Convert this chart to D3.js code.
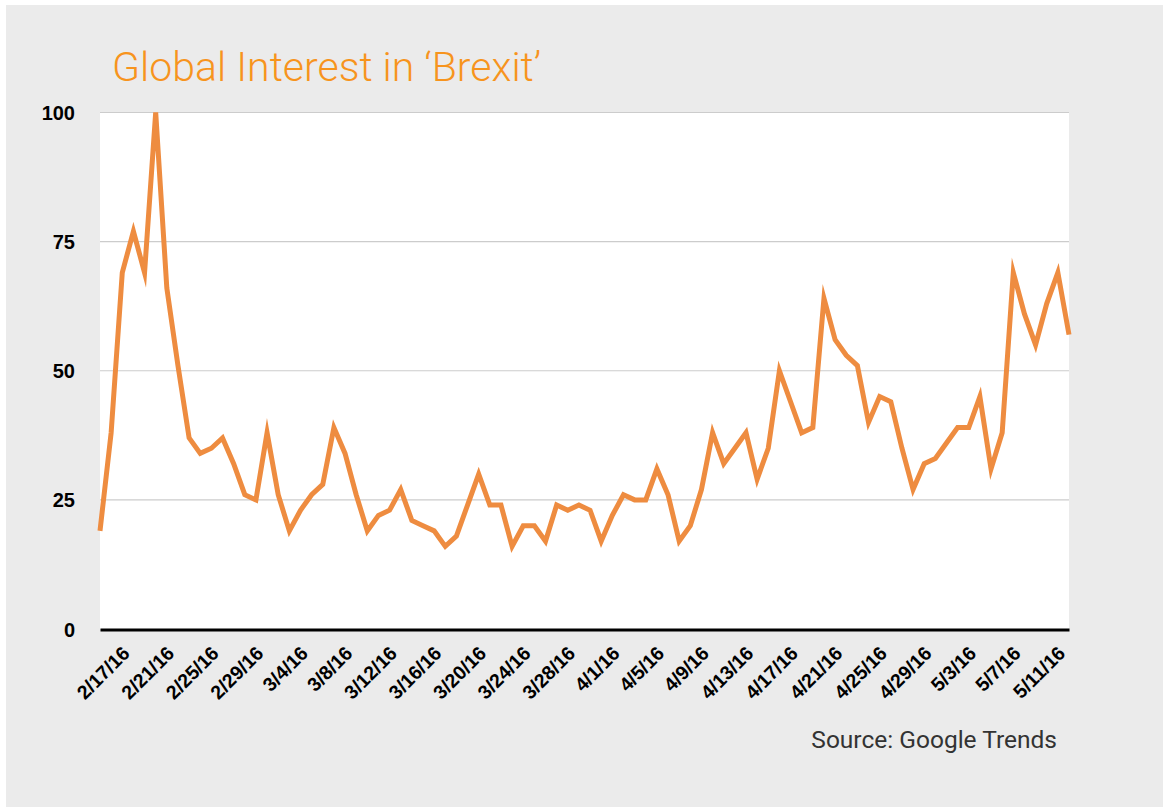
<!DOCTYPE html>
<html>
<head>
<meta charset="utf-8">
<script src="https://cdn.jsdelivr.net/npm/d3@7"></script>
<style>
  html, body { margin: 0; padding: 0; background: #ffffff; }
  svg { display: block; }
</style>
</head>
<body>
<div id="chart"></div>
<script>
// daily Google Trends values, 2/14/16 .. 5/11/16
var startDate = "2016-02-14";
var endDate = "2016-05-11";
var interest = [
  19, 38, 69, 77, 69, 100, 66, 51, 37, 34,
  35, 37, 32, 26, 25, 38, 26, 19, 23, 26,
  28, 39, 34, 26, 19, 22, 23, 27, 21, 20,
  19, 16, 18, 24, 30, 24, 24, 16, 20, 20,
  17, 24, 23, 24, 23, 17, 22, 26, 25, 25,
  31, 26, 17, 20, 27, 38, 32, 35, 38, 29,
  35, 50, 44, 38, 39, 64, 56, 53, 51, 40,
  45, 44, 35, 27, 32, 33, 36, 39, 39, 45,
  31, 38, 69, 61, 55, 63, 69, 57
];
var tickLabels = [
  "2/17/16", "2/21/16", "2/25/16", "2/29/16", "3/4/16", "3/8/16",
  "3/12/16", "3/16/16", "3/20/16", "3/24/16", "3/28/16", "4/1/16",
  "4/5/16", "4/9/16", "4/13/16", "4/17/16", "4/21/16", "4/25/16",
  "4/29/16", "5/3/16", "5/7/16", "5/11/16"
];
var yTicks = [0, 25, 50, 75, 100];
var titleText = "Global Interest in \u2018Brexit\u2019";
var sourceText = "Source: Google Trends";

var W = 1163, H = 807;
var plot = { left: 100, right: 1069, top: 112.5, bottom: 629 };

var parseIso = d3.utcParse("%Y-%m-%d");
var parseLabel = d3.utcParse("%m/%d/%y");
var fmtLabel = d3.utcFormat("%-m/%-d/%y");

var dates = d3.utcDay.range(parseIso(startDate), d3.utcDay.offset(parseIso(endDate), 1));
var data = dates.map(function (d, i) { return { date: d, value: interest[i] }; });

var x = d3.scaleUtc()
  .domain([dates[0], dates[dates.length - 1]])
  .range([plot.left, plot.right]);

var y = d3.scaleLinear()
  .domain([0, 100])
  .range([plot.bottom, plot.top]);

var svg = d3.select("#chart").append("svg")
  .attr("width", W)
  .attr("height", H);

// grey panel
svg.append("rect")
  .attr("x", 6).attr("y", 5)
  .attr("width", W - 6).attr("height", H - 5)
  .attr("fill", "#ebebeb");

// white plot area
svg.append("rect")
  .attr("x", plot.left).attr("y", plot.top)
  .attr("width", plot.right - plot.left)
  .attr("height", plot.bottom - plot.top)
  .attr("fill", "#ffffff");

// gridlines
svg.append("g")
  .selectAll("line")
  .data(yTicks.filter(function (t) { return t > 0; }))
  .enter()
  .append("line")
  .attr("x1", plot.left).attr("x2", plot.right)
  .attr("y1", function (d) { return y(d); })
  .attr("y2", function (d) { return y(d); })
  .attr("stroke", "#cccccc")
  .attr("stroke-width", 1.2);

// title
svg.append("text")
  .attr("x", 112).attr("y", 81)
  .attr("fill", "#f7941d")
  .style("font-family", "Roboto, 'Liberation Sans', sans-serif")
  .style("font-weight", 300)
  .style("font-size", "41px")
  .text(titleText);

// y axis
var yAxis = svg.append("g")
  .attr("transform", "translate(" + plot.left + ",0)")
  .call(d3.axisLeft(y).tickValues(yTicks).tickSize(0));
yAxis.select(".domain").remove();
yAxis.selectAll("text")
  .attr("x", -25)
  .attr("dy", "0.35em")
  .attr("fill", "#000")
  .style("font-family", "'Liberation Sans', Arial, sans-serif")
  .style("font-weight", "bold")
  .style("font-size", "20px");

// x axis
var xAxis = svg.append("g")
  .attr("transform", "translate(0," + 629.5 + ")")
  .call(d3.axisBottom(x)
    .tickValues(tickLabels.map(function (t) { return parseLabel(t); }))
    .tickFormat(fmtLabel)
    .tickSize(0)
    .tickSizeOuter(0));
xAxis.select(".domain")
  .attr("stroke", "#000")
  .attr("stroke-width", 3);
xAxis.selectAll("text")
  .attr("x", 0).attr("y", 0).attr("dy", 0)
  .attr("transform", "translate(-3,25) rotate(-45)")
  .style("text-anchor", "end")
  .attr("fill", "#000")
  .style("font-family", "'Liberation Sans', Arial, sans-serif")
  .style("font-weight", "bold")
  .style("font-size", "19.5px");

// line
var line = d3.line()
  .x(function (d) { return x(d.date); })
  .y(function (d) { return y(d.value); });

svg.append("path")
  .datum(data)
  .attr("d", line)
  .attr("fill", "none")
  .attr("stroke", "#ee8c40")
  .attr("stroke-width", 5)
  .attr("stroke-linejoin", "miter")
  .attr("stroke-miterlimit", 10);

// source note
svg.append("text")
  .attr("x", 1057).attr("y", 748)
  .attr("text-anchor", "end")
  .attr("fill", "#333")
  .style("font-family", "Roboto, 'Liberation Sans', sans-serif")
  .style("font-weight", 400)
  .style("font-size", "24.5px")
  .text(sourceText);
</script>
</body>
</html>
